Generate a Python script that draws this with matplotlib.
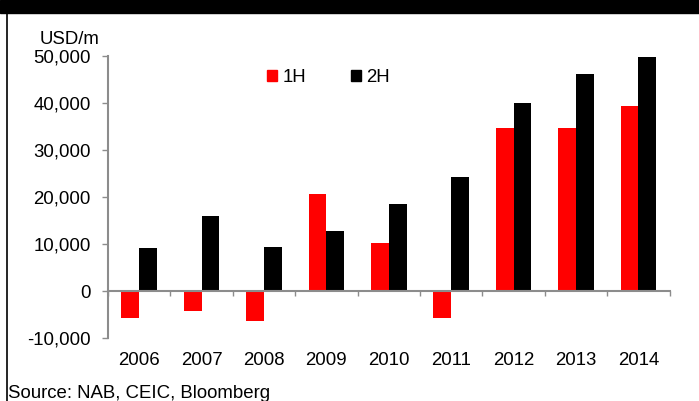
import numpy as np
import matplotlib
matplotlib.use('Agg')
import matplotlib.pyplot as plt
import matplotlib.transforms as mtransforms
from matplotlib.patches import Rectangle, Patch
from matplotlib.lines import Line2D

plt.rcParams['font.family'] = ['Liberation Sans', 'DejaVu Sans']

# net flows per half year, USD m
years = ['2006', '2007', '2008', '2009', '2010', '2011', '2012', '2013', '2014']
first_half = [-5750, -4100, -6400, 20700, 10200, -5750, 34800, 34800, 39300]
second_half = [9200, 15900, 9500, 12700, 18500, 24300, 40000, 46200, 49700]

grey = '#8c8c8c'
fs = 13.4

fig = plt.figure(figsize=(6.99, 4.01), dpi=100)
ax = fig.add_axes([0.1545, 0.1564, 0.8035, 0.7039])

x = np.arange(len(years))
w = 0.2857
ax.bar(x - w / 2, first_half, w, color='#ff0000', label='1H')
ax.bar(x + w / 2, second_half, w, color='#000000', label='2H')

ax.set_xlim(-0.5, len(years) - 0.5)
ax.set_ylim(-10000, 50000)
ax.set_yticks(np.arange(-10000, 50001, 10000))
ax.set_yticklabels(['{:,}'.format(v) for v in range(-10000, 50001, 10000)], fontsize=fs)
ax.tick_params(axis='y', direction='out', length=4.5, width=1, color=grey, pad=8)

# category boundary ticks on the zero line, year labels below the plot
ax.set_xticks(np.arange(-0.5, len(years), 1.0))
ax.set_xticklabels([])
ax.tick_params(axis='x', direction='out', length=3.5, width=1, color=grey)
trans = mtransforms.blended_transform_factory(ax.transData, ax.transAxes)
for i, yr in enumerate(years):
    ax.text(i, -0.077, yr, transform=trans, ha='center', va='center', fontsize=fs)

for s in ['top', 'right']:
    ax.spines[s].set_visible(False)
ax.spines['bottom'].set_position(('data', 0))
for s in ['left', 'bottom']:
    ax.spines[s].set_color(grey)
    ax.spines[s].set_linewidth(1.5)

handles = [Patch(color='#ff0000'), Patch(color='#000000')]
fig.legend(handles, ['1H', '2H'], loc='center left', bbox_to_anchor=(267 / 699, 1 - 78 / 401),
           ncol=2, frameon=False, fontsize=fs, handlelength=0.53, handleheight=0.53,
           handletextpad=0.3, columnspacing=2.4, borderpad=0, borderaxespad=0)

fig.text(40 / 699, 1 - 40 / 401, 'USD/m', fontsize=fs, ha='left', va='center')

# header band, left rule and source line
fig.patches.append(Rectangle((0, 1 - 13 / 401), 1, 13 / 401, transform=fig.transFigure,
                             color='black', zorder=0))
fig.lines.append(Line2D([6.5 / 699, 6.5 / 699], [0, 1 - 13 / 401], transform=fig.transFigure,
                        color='black', lw=1.2))
fig.text(7.5 / 699, 1 - 398 / 401, 'Source: NAB, CEIC, Bloomberg', fontsize=fs,
         ha='left', va='baseline')

fig.savefig('out.png', dpi=100)
